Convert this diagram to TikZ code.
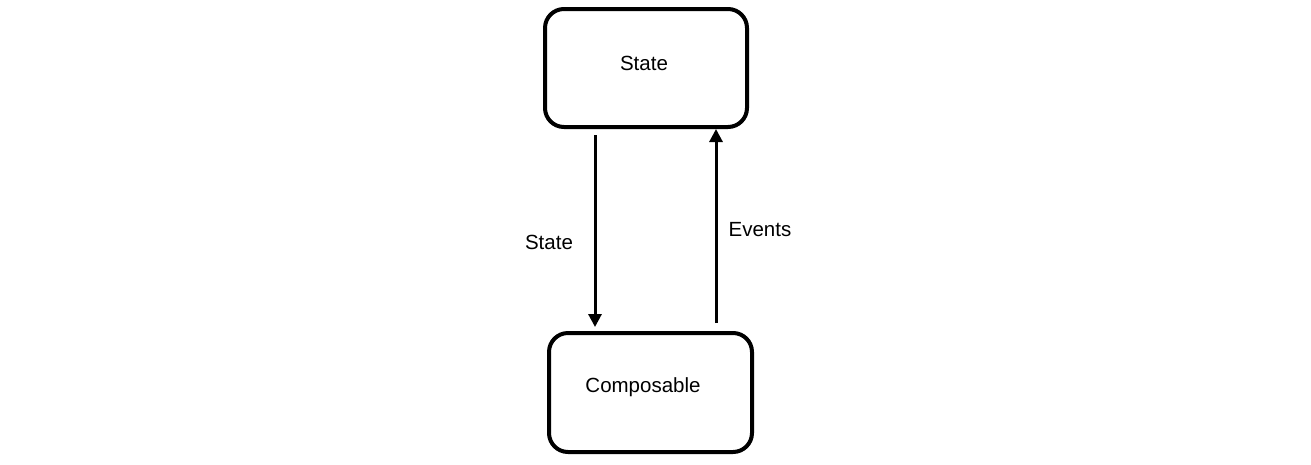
\documentclass[tikz,border=0pt]{standalone}
\usepackage{fontspec}
\setmainfont{Liberation Sans}
\usetikzlibrary{arrows.meta,calc}
\begin{document}
\begin{tikzpicture}[x=1pt,y=-1pt,
  box/.style={draw=black,line width=4pt,rounded corners=19pt,minimum width=202pt,minimum height=118pt,inner sep=0pt,fill=white},
  txt/.style={font=\fontsize{20.5}{24}\selectfont,inner sep=0pt,anchor=center},
  arr/.style={line width=3pt,-{Triangle[width=13pt,length=13pt]}}]
\useasboundingbox[fill=white] (0,0) rectangle (1311,464);
\node[box] (top) at (646,68) {};
\node[box,minimum width=203pt,minimum height=119pt] (bot) at (650.5,392.5) {};
\node[txt] (ttop) at (644,63) {State};
\node[txt] (tbot) at (643,387) {Composable};
\coordinate (dA) at ($(top.south west)+(52,0)$);
\coordinate (dB) at ($(bot.north west)+(48,0)$);
\coordinate (uA) at ($(bot.north west)+(169,0)$);
\coordinate (uB) at ($(top.south west)+(173,0)$);
\draw[arr,shorten <=6pt,shorten >=4pt] (dA) -- (dB);
\draw[arr,shorten <=8pt,shorten >=0pt] (uA) -- (uB);
\node[txt] (lstate) at (549,242) {State};
\node[txt] (levents) at (760,230) {Events};
\end{tikzpicture}
\end{document}
